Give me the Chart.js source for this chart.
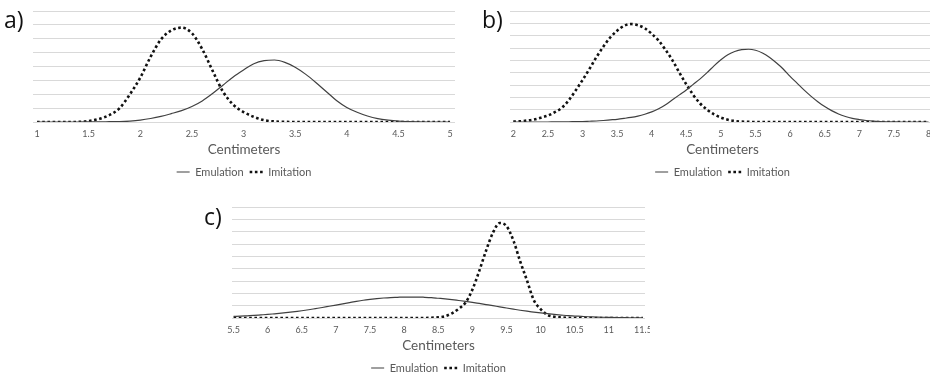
<!DOCTYPE html>
<html>
<head>
<meta charset="utf-8">
<script src="https://cdn.jsdelivr.net/npm/chart.js@4"></script>
<style>
  html, body { margin: 0; padding: 0; background: #fff; overflow: hidden; width: 930px; height: 376px; position: relative; }
  .panel { position: absolute; overflow: hidden; }
  .tag { position: absolute; font-family: 'Open Sans', sans-serif; font-size: 23px; line-height: 1; color: #111; }
</style>
</head>
<body>
<div class="panel" style="left:0;top:0;width:470px;height:200px"><canvas id="chart-a" width="470" height="200"></canvas></div>
<div class="panel" style="left:477px;top:0;width:453px;height:200px"><canvas id="chart-b" width="470" height="200"></canvas></div>
<div class="panel" style="left:199px;top:196px;width:451px;height:180px"><canvas id="chart-c" width="461" height="200"></canvas></div>
<div class="tag" style="left:4px;top:8px">a)</div>
<div class="tag" style="left:482px;top:8px">b)</div>
<div class="tag" style="left:204px;top:205px">c)</div>
<script>
// panel a
const xA = [1.0, 1.1, 1.2, 1.3, 1.4, 1.5, 1.6, 1.7, 1.8, 1.9, 2.0, 2.1, 2.2, 2.3, 2.4, 2.5, 2.6, 2.7, 2.8, 2.9,
  3.0, 3.1, 3.2, 3.3, 3.4, 3.5, 3.6, 3.7, 3.8, 3.9, 4.0, 4.1, 4.2, 4.3, 4.4, 4.5, 4.6, 4.7, 4.8, 4.9, 5.0]
const emulationA = [0, 0, 0, 0, 0, 0.01, 0.01, 0.02, 0.03, 0.07, 0.14, 0.25, 0.4, 0.6, 0.82, 1.12, 1.52, 2.05, 2.65, 3.25,
  3.75, 4.2, 4.42, 4.47, 4.3, 3.95, 3.45, 2.85, 2.2, 1.55, 1.05, 0.7, 0.43, 0.24, 0.13, 0.06, 0.03, 0.01, 0, 0, 0]
const imitationA = [0, 0, 0, 0, 0.01, 0.07, 0.22, 0.5, 1.0, 2.0, 3.2, 4.7, 5.95, 6.6, 6.8, 6.4, 5.25, 3.7, 2.2, 1.25,
  0.72, 0.37, 0.13, 0.04, 0.01, 0, 0, 0, 0, 0, 0, 0, 0, 0, 0, 0, 0, 0, 0, 0, 0]
const ticksA = [1, 1.5, 2, 2.5, 3, 3.5, 4, 4.5, 5]

// panel b
const xB = [2.0, 2.1, 2.2, 2.3, 2.4, 2.5, 2.6, 2.7, 2.8, 2.9, 3.0, 3.1, 3.2, 3.3, 3.4, 3.5, 3.6, 3.7, 3.8, 3.9,
  4.0, 4.1, 4.2, 4.3, 4.4, 4.5, 4.6, 4.7, 4.8, 4.9, 5.0, 5.1, 5.2, 5.3, 5.4, 5.5, 5.6, 5.7, 5.8, 5.9,
  6.0, 6.1, 6.2, 6.3, 6.4, 6.5, 6.6, 6.7, 6.8, 6.9, 7.0, 7.1, 7.2, 7.3, 7.4, 7.5, 7.6, 7.7, 7.8, 7.9, 8.0]
const emulationB = [0, 0, 0, 0, 0, 0, 0.01, 0.01, 0.02, 0.03, 0.04, 0.06, 0.08, 0.12, 0.17, 0.22, 0.29, 0.37, 0.48, 0.63,
  0.82, 1.08, 1.4, 1.8, 2.2, 2.6, 3.05, 3.5, 4.0, 4.55, 5.05, 5.45, 5.72, 5.87, 5.9, 5.82, 5.6, 5.25, 4.8, 4.3,
  3.7, 3.15, 2.6, 2.1, 1.65, 1.25, 0.92, 0.65, 0.45, 0.3, 0.2, 0.12, 0.07, 0.04, 0.02, 0.01, 0, 0, 0, 0, 0]
const imitationB = [0.03, 0.06, 0.12, 0.2, 0.35, 0.52, 0.8, 1.15, 1.75, 2.55, 3.4, 4.3, 5.25, 6.1, 6.85, 7.4, 7.8, 7.94, 7.85, 7.6,
  7.15, 6.6, 5.85, 5.0, 4.0, 3.05, 2.2, 1.5, 1.0, 0.62, 0.36, 0.18, 0.08, 0.03, 0.01, 0, 0, 0, 0, 0,
  0, 0, 0, 0, 0, 0, 0, 0, 0, 0, 0, 0, 0, 0, 0, 0, 0, 0, 0, 0, 0]
const ticksB = [2, 2.5, 3, 3.5, 4, 4.5, 5, 5.5, 6, 6.5, 7, 7.5, 8]

// panel c
const xC = [5.5, 5.6, 5.7, 5.8, 5.9, 6.0, 6.1, 6.2, 6.3, 6.4, 6.5, 6.6, 6.7, 6.8, 6.9, 7.0, 7.1, 7.2, 7.3, 7.4,
  7.5, 7.6, 7.7, 7.8, 7.9, 8.0, 8.1, 8.2, 8.3, 8.4, 8.5, 8.6, 8.7, 8.8, 8.9, 9.0, 9.1, 9.2, 9.3, 9.4,
  9.5, 9.6, 9.7, 9.8, 9.9, 10.0, 10.1, 10.2, 10.3, 10.4, 10.5, 10.6, 10.7, 10.8, 10.9, 11.0, 11.1, 11.2, 11.3, 11.4, 11.5]
const emulationC = [0.13, 0.15, 0.18, 0.21, 0.25, 0.29, 0.34, 0.39, 0.45, 0.52, 0.59, 0.67, 0.76, 0.85, 0.95, 1.05, 1.15, 1.25, 1.35, 1.44,
  1.51, 1.57, 1.62, 1.66, 1.68, 1.7, 1.7, 1.7, 1.68, 1.65, 1.6, 1.55, 1.49, 1.42, 1.35, 1.27, 1.18, 1.09, 1.0, 0.9,
  0.81, 0.72, 0.63, 0.55, 0.48, 0.41, 0.35, 0.29, 0.24, 0.19, 0.16, 0.13, 0.1, 0.08, 0.06, 0.05, 0.04, 0.03, 0.02, 0.01, 0.01]
const imitationC = [0, 0, 0, 0, 0, 0, 0, 0, 0, 0, 0, 0, 0, 0, 0, 0, 0, 0, 0, 0,
  0, 0, 0, 0, 0, 0, 0, 0, 0, 0.02, 0.05, 0.15, 0.38, 0.75, 1.25, 2.3, 3.8, 5.45, 6.9, 7.7,
  7.45, 6.3, 4.6, 3.05, 1.45, 0.72, 0.25, 0.1, 0.04, 0.01, 0, 0, 0, 0, 0, 0, 0, 0, 0, 0, 0]
const ticksC = [5.5, 6, 6.5, 7, 7.5, 8, 8.5, 9, 9.5, 10, 10.5, 11, 11.5]

const grey = '#595959'
const font = size => ({ family: 'Lato', size })

// legend built from the datasets so the dotted pattern shows in the key
const legendItems = chart => chart.data.datasets.map((ds, i) => ({
  text: ds.label,
  fillStyle: ds.borderColor,
  strokeStyle: ds.borderColor,
  lineWidth: ds.borderWidth,
  lineDash: ds.borderDash || [],
  pointStyle: 'line',
  fontColor: grey,
  hidden: false,
  datasetIndex: i
}))

const makeChart = (id, xs, emulation, imitation, tickValues, min, max, yMax, right) => new Chart(document.getElementById(id), {
  type: 'line',
  data: {
    datasets: [
      {
        label: 'Emulation',
        data: xs.map((x, i) => ({ x, y: emulation[i] })),
        borderColor: '#404040',
        backgroundColor: '#404040',
        borderWidth: 1.2,
        pointRadius: 0,
        cubicInterpolationMode: 'monotone'
      },
      {
        label: 'Imitation',
        data: xs.map((x, i) => ({ x, y: imitation[i] })),
        borderColor: '#111',
        backgroundColor: '#111',
        borderWidth: 2.6,
        borderDash: [2.6, 2.6],
        pointRadius: 0,
        cubicInterpolationMode: 'monotone'
      }
    ]
  },
  options: {
    responsive: false,
    animation: false,
    layout: { padding: { left: 33, right, top: 11, bottom: 12.5 } },
    scales: {
      x: {
        type: 'linear',
        min,
        max,
        afterBuildTicks: s => { s.ticks = tickValues.map(v => ({ value: v })) },
        afterFit: s => { s.height = 38.5 },
        grid: { display: false, drawTicks: false },
        border: { display: false },
        ticks: { color: grey, font: font(9), padding: 6.6, maxRotation: 0, autoSkip: false, callback: v => String(v) },
        title: { display: true, text: 'Centimeters', color: grey, font: font(13.5), padding: { top: 0, bottom: 3 } }
      },
      y: {
        min: 0,
        max: yMax,
        afterFit: s => { s.width = 0 },
        ticks: { display: false, stepSize: 1 },
        grid: { color: '#d9d9d9', drawTicks: false },
        border: { display: false }
      }
    },
    plugins: {
      legend: {
        position: 'bottom',
        labels: {
          usePointStyle: true,
          pointStyle: 'line',
          pointStyleWidth: 13,
          color: grey,
          font: font(11),
          padding: 6,
          generateLabels: legendItems
        }
      },
      tooltip: { enabled: false }
    }
  }
})

makeChart('chart-a', xA, emulationA, imitationA, ticksA, 0.961, 5.048, 8, 15)
makeChart('chart-b', xB, emulationB, imitationB, ticksB, 1.952, 8.094, 9, 12)
makeChart('chart-c', xC, emulationC, imitationC, ticksC, 5.477, 11.53, 9, 15)
</script>
</body>
</html>
